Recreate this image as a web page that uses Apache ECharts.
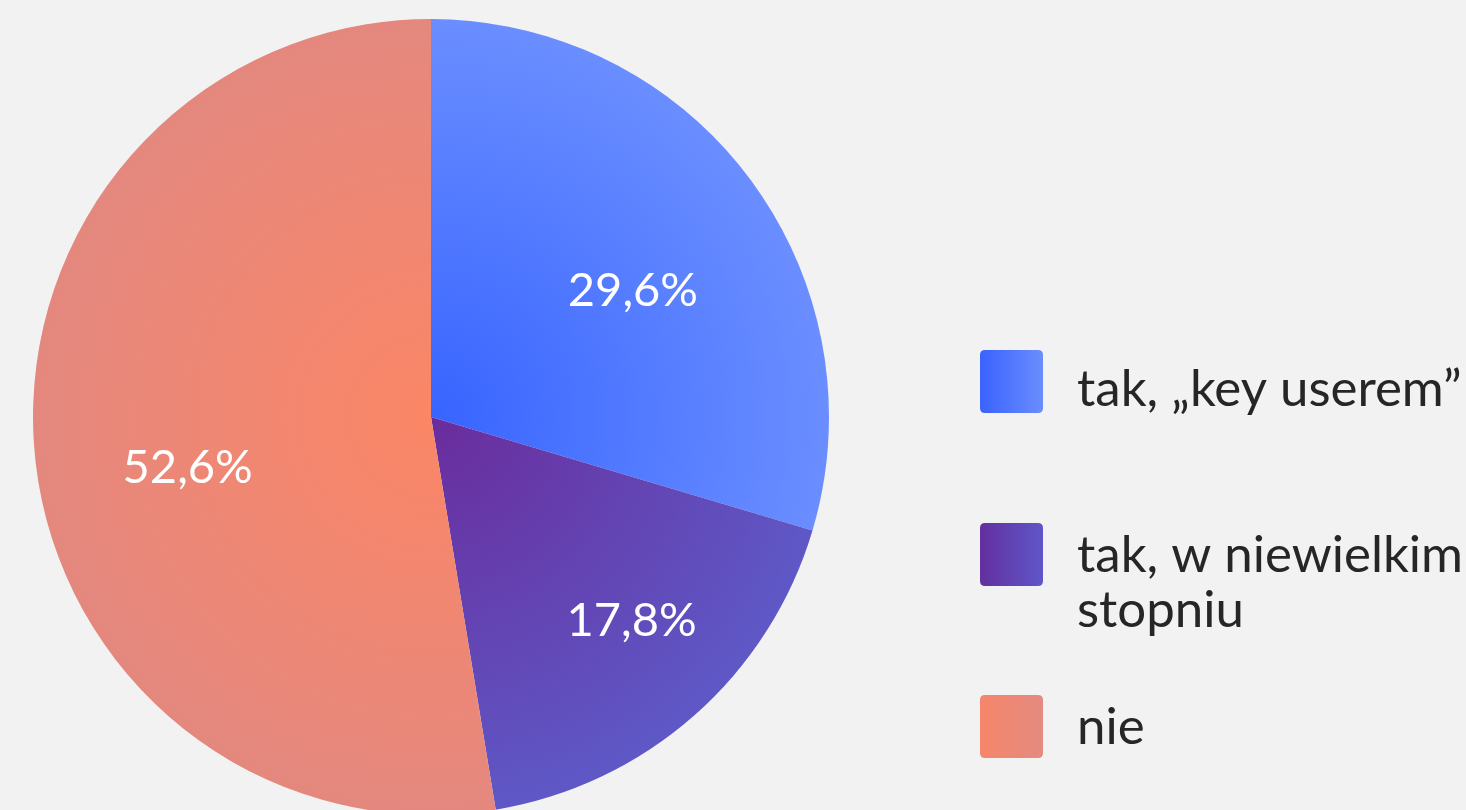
<!DOCTYPE html>
<html>
<head>
<meta charset="utf-8">
<script src="https://cdn.jsdelivr.net/npm/echarts@6/dist/echarts.min.js"></script>
<style>
html,body{margin:0;padding:0;background:#f2f2f2;}
#c{width:1466px;height:810px;}
</style>
</head>
<body>
<div id="c"></div>
<script>
const categories = ['tak, „key userem”', 'tak, w niewielkim\nstopniu', 'nie'];
const values = [29.6, 17.8, 52.6];
const labelTexts = ['29,6%', '17,8%', '52,6%'];

const CX = 431, CY = 417, R = 398;
const innerColors = ['#3864ff', '#6a2c9c', '#fb8666'];
const outerColors = ['#6a8eff', '#5e58c6', '#e4887f'];
const legendLeft = ['#3a62fd', '#63309f', '#f6866a'];
const legendRight = ['#6a8dfd', '#5f56c8', '#e48a80'];
const labelShift = [[40, -5], [67, 52], [-42, 34]];

function radial(i) {
  return { type: 'radial', x: CX, y: CY, r: R, global: true,
    colorStops: [{ offset: 0, color: innerColors[i] }, { offset: 1, color: outerColors[i] }] };
}
function linear(i) {
  return { type: 'linear', x: 0, y: 0, x2: 1, y2: 0,
    colorStops: [{ offset: 0, color: legendLeft[i] }, { offset: 1, color: legendRight[i] }] };
}

// gap lines [before, after] used to nudge legend text vertically against its icon
const legendGaps = [[16, 0], [58, 0], [2, 0]];
const legendTops = [346, 470.5, 695];
function legendText(name, i) {
  const parts = [];
  if (legendGaps[i][0]) parts.push('{g' + i + 'a| }');
  name.split('\n').forEach(l => parts.push('{t|' + l + '}'));
  if (legendGaps[i][1]) parts.push('{g' + i + 'b| }');
  return parts.join('\n');
}
const legends = categories.map((name, i) => {
  const rich = { t: { fontFamily: 'Lato', fontSize: 51, lineHeight: 55, color: '#262626' } };
  rich['g' + i + 'a'] = { fontSize: 1, lineHeight: legendGaps[i][0] || 1, height: legendGaps[i][0] || 1 };
  rich['g' + i + 'b'] = { fontSize: 1, lineHeight: legendGaps[i][1] || 1, height: legendGaps[i][1] || 1 };
  return {
    left: 980, top: legendTops[i], orient: 'vertical',
    icon: 'path://M8,0 L92,0 Q100,0 100,8 L100,92 Q100,100 92,100 L8,100 Q0,100 0,92 L0,8 Q0,0 8,0 Z',
    itemWidth: 63, itemHeight: 63, itemGap: 0, padding: 0,
    selectedMode: false,
    data: [{ name: name, itemStyle: { color: linear(i) } }],
    formatter: n => legendText(n, i),
    textStyle: { fontFamily: 'Lato', fontSize: 51, color: '#262626', padding: [0, 0, 0, 29], rich: rich }
  };
});

const chart = echarts.init(document.getElementById('c'), null, { renderer: 'canvas' });
chart.setOption({
  backgroundColor: '#f2f2f2',
  animation: false,
  legend: legends,
  series: [{
    type: 'pie',
    center: [CX, CY],
    radius: [0, R],
    startAngle: 90,
    clockwise: true,
    avoidLabelOverlap: false,
    label: {
      show: true, position: 'inside', color: '#ffffff',
      fontFamily: 'Lato', fontSize: 47,
      formatter: p => labelTexts[p.dataIndex]
    },
    labelLine: { show: false },
    labelLayout: p => ({ dx: labelShift[p.dataIndex][0], dy: labelShift[p.dataIndex][1] }),
    itemStyle: { borderWidth: 0 },
    emphasis: { disabled: true },
    data: categories.map((name, i) => ({ name: name, value: values[i], itemStyle: { color: radial(i) } }))
  }]
});
</script>
</body>
</html>
